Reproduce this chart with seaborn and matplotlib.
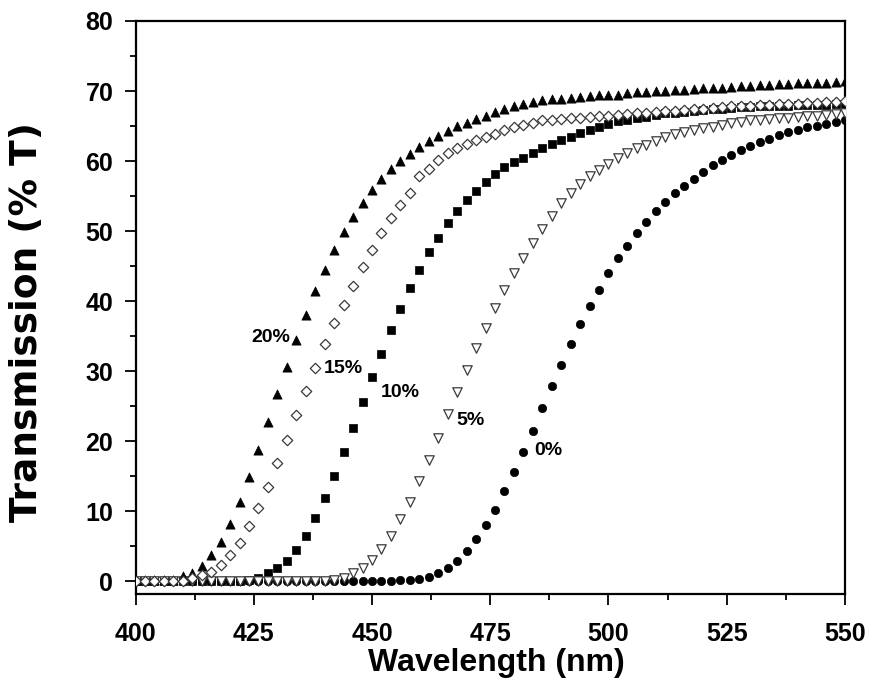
import matplotlib
matplotlib.use("Agg")
import matplotlib.pyplot as plt
from matplotlib.ticker import MultipleLocator
import pandas as pd
import seaborn as sns

# ---------------- data ----------------
wavelength = list(range(400, 551, 2))

t_0pct = [0.0] * 28 + [
    0.1, 0.1, 0.3, 0.6, 1.2, 1.9, 2.9, 4.3, 6.0, 8.0, 10.2, 12.8, 15.6, 18.5,
    21.5, 24.7, 27.9, 30.9, 33.8, 36.7, 39.3, 41.6, 44.0, 46.1, 47.9, 49.7,
    51.3, 52.8, 54.1, 55.4, 56.5, 57.5, 58.5, 59.4, 60.1, 60.8, 61.6, 62.1,
    62.7, 63.2, 63.7, 64.1, 64.4, 64.8, 65.0, 65.3, 65.6, 65.9]

t_5pct = [0.0] * 21 + [
    0.1, 0.5, 1.1, 1.8, 3.0, 4.6, 6.5, 8.8, 11.3, 14.3, 17.3, 20.5, 23.8,
    27.0, 30.2, 33.3, 36.2, 39.0, 41.6, 44.0, 46.2, 48.3, 50.3, 52.1, 54.0,
    55.4, 56.7, 57.8, 58.7, 59.6, 60.4, 61.1, 61.8, 62.3, 62.8, 63.4, 63.8,
    64.1, 64.4, 64.7, 64.9, 65.1, 65.4, 65.6, 65.8, 65.9, 66.0, 66.1, 66.2,
    66.3, 66.4, 66.5, 66.6, 66.7, 66.8]

t_10pct = [0.0] * 12 + [
    0.2, 0.5, 1.1, 1.8, 2.9, 4.4, 6.5, 9.0, 11.9, 15.0, 18.4, 21.9, 25.6,
    29.1, 32.5, 35.9, 38.9, 41.8, 44.4, 47.0, 49.0, 51.1, 52.9, 54.5, 55.7,
    57.0, 58.1, 59.1, 59.8, 60.5, 61.1, 61.8, 62.5, 63.0, 63.5, 64.0, 64.4,
    64.8, 65.3, 65.7, 65.9, 66.1, 66.3, 66.6, 66.8, 66.9, 67.0, 67.2, 67.3,
    67.4, 67.5, 67.6, 67.7, 67.7, 67.8, 67.8, 67.9, 67.9, 68.0, 68.0, 68.0,
    68.0, 68.1, 68.1]

t_15pct = [0.0] * 6 + [
    0.4, 0.9, 1.3, 2.3, 3.7, 5.5, 7.8, 10.4, 13.4, 16.8, 20.2, 23.7, 27.1,
    30.5, 33.8, 36.8, 39.5, 42.1, 44.9, 47.3, 49.7, 51.8, 53.7, 55.5, 57.8,
    58.9, 60.1, 61.1, 61.8, 62.4, 63.0, 63.4, 63.9, 64.4, 64.8, 65.1, 65.5,
    65.8, 65.9, 66.0, 66.1, 66.2, 66.3, 66.4, 66.5, 66.6, 66.7, 66.8, 66.9,
    67.0, 67.1, 67.2, 67.3, 67.4, 67.5, 67.6, 67.7, 67.8, 67.8, 67.9, 68.0,
    68.0, 68.1, 68.2, 68.2, 68.3, 68.3, 68.4, 68.5, 68.6]

t_20pct = [0.1] * 5 + [
    0.7, 1.2, 2.1, 3.7, 5.6, 8.2, 11.3, 14.8, 18.7, 22.7, 26.7, 30.6, 34.5,
    38.0, 41.4, 44.4, 47.3, 49.8, 52.0, 54.0, 55.9, 57.5, 58.8, 60.0, 61.0,
    62.0, 62.9, 63.6, 64.3, 65.0, 65.5, 66.0, 66.4, 67.0, 67.4, 67.8, 68.2,
    68.5, 68.7, 68.8, 68.9, 69.0, 69.2, 69.3, 69.4, 69.4, 69.5, 69.7, 69.8,
    69.9, 70.0, 70.0, 70.1, 70.2, 70.3, 70.4, 70.5, 70.5, 70.6, 70.7, 70.7,
    70.8, 70.9, 71.0, 71.0, 71.1, 71.1, 71.2, 71.2, 71.3, 71.5]

series_names = ["0%", "5%", "10%", "15%", "20%"]
x_ticks = [400, 425, 450, 475, 500, 525, 550]
y_ticks = [0, 10, 20, 30, 40, 50, 60, 70, 80]

df = pd.DataFrame({
    "Wavelength": wavelength * 5,
    "T": t_0pct + t_5pct + t_10pct + t_15pct + t_20pct,
    "Dopant": sum([[n] * len(wavelength) for n in series_names], []),
})

# ---------------- style ----------------
sns.set_theme(style="ticks")
plt.rcParams["font.family"] = ["Liberation Sans", "DejaVu Sans"]
plt.rcParams["font.weight"] = "bold"
for key in ["text.color", "axes.labelcolor", "xtick.color", "ytick.color",
            "axes.edgecolor", "xtick.labelcolor", "ytick.labelcolor"]:
    plt.rcParams[key] = "black"

fig = plt.figure(figsize=(8.69, 6.82), dpi=100)
ax = fig.add_axes([135.5 / 869, 88 / 682, 709.5 / 869, 573 / 682])

# drawing order matters for overlaps at the baseline
styles = {
    "0%":  dict(marker="o", color="black", edgecolor="black", s=36, linewidth=0.5, zorder=2),
    "10%": dict(marker="s", color="black", edgecolor="black", s=28, linewidth=0.5, zorder=3),
    "5%":  dict(marker="v", color="white", edgecolor="#3a3a3a", s=46, linewidth=0.9, zorder=4),
    "20%": dict(marker="^", color="black", edgecolor="black", s=44, linewidth=0.5, zorder=5),
    "15%": dict(marker="D", color="white", edgecolor="#3a3a3a", s=28, linewidth=0.9, zorder=6),
}
for name in ["0%", "10%", "5%", "20%", "15%"]:
    sub = df[df["Dopant"] == name]
    sns.scatterplot(data=sub, x="Wavelength", y="T", ax=ax, legend=False, **styles[name])

# curve labels
label_pos = {"20%": (424.6, 34.8), "15%": (439.8, 30.4), "10%": (451.9, 27.0),
             "5%": (467.8, 22.9), "0%": (484.3, 18.6)}
for name, (lx, ly) in label_pos.items():
    ax.text(lx, ly, name, fontsize=14, fontweight="bold", ha="left", va="center",
            color="black", zorder=10)

ax.set_xlim(400, 550)
ax.set_ylim(-1.85, 80)
ax.set_xticks(x_ticks)
ax.set_yticks(y_ticks)
ax.xaxis.set_minor_locator(MultipleLocator(12.5))
ax.yaxis.set_minor_locator(MultipleLocator(5))
ax.tick_params(axis="both", which="major", direction="out", length=8, width=1.3,
               labelsize=18, color="black", labelcolor="black", top=False, right=False)
ax.tick_params(axis="both", which="minor", direction="out", length=4.5, width=1.3,
               color="black", top=False, right=False)
ax.tick_params(axis="y", which="major", pad=8)
ax.tick_params(axis="x", which="major", pad=12)
for lab in ax.get_xticklabels() + ax.get_yticklabels():
    lab.set_fontweight("bold")
for sp in ax.spines.values():
    sp.set_visible(True)
    sp.set_linewidth(1.6)
    sp.set_color("black")

ax.set_xlabel("Wavelength (nm)", fontsize=23, fontweight="bold", color="black")
ax.xaxis.set_label_coords(0.508, -0.095)
ax.xaxis.label.set_va("top")
ax.set_ylabel("Transmission (% T)", fontsize=27, fontweight="bold",
              family=["DejaVu Sans"], color="black")
ax.yaxis.set_label_coords(-0.128, 0.475)

fig.savefig("out.png", dpi=100, facecolor="white")
